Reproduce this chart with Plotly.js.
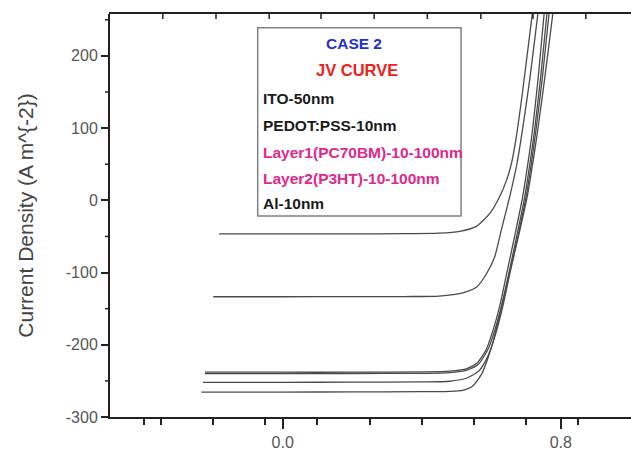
<!DOCTYPE html>
<html>
<head>
<meta charset="utf-8">
<script src="https://cdn.plot.ly/plotly-3.0.1.min.js"></script>
<style>
  html, body { margin: 0; padding: 0; background: #ffffff; overflow: hidden; width: 631px; height: 455px; }
  #chart { width: 680px; height: 455px; }
</style>
</head>
<body>
<div id="chart"></div>
<script>
// ---- Data (Voltage in V, Current density in A m^-2) ----
const voltageA = [-0.183, 0.0, 0.2, 0.35, 0.45, 0.509, 0.557, 0.596, 0.624, 0.644, 0.658, 0.672, 0.69, 0.718, 0.73];
const currentA = [-46.5, -46.5, -46.4, -46.2, -45.5, -43, -36, -18, 5, 28, 51, 88, 150, 258, 300];

const voltageB = [-0.2, 0.0, 0.2, 0.35, 0.45, 0.518, 0.558, 0.587, 0.61, 0.629, 0.653, 0.674, 0.688, 0.71, 0.734, 0.745];
const currentB = [-133.5, -133.5, -133.4, -133.2, -132.5, -128, -120, -101, -78, -41, 5, 51, 92, 165, 258, 300];

const voltageC = [-0.224, 0.0, 0.2, 0.4, 0.48, 0.53, 0.56, 0.585, 0.605, 0.625, 0.645, 0.668, 0.69, 0.705, 0.718, 0.735, 0.752, 0.762];
const currentC = [-238, -238, -238, -237.6, -236.5, -233, -225, -207, -180, -145, -100, -48, 4, 50, 95, 170, 258, 300];

const voltageC2 = [-0.224, 0.0, 0.2, 0.4, 0.48, 0.53, 0.563, 0.59, 0.61, 0.63, 0.651, 0.674, 0.696, 0.711, 0.724, 0.742, 0.76, 0.77];
const currentC2 = [-240, -240, -239.8, -239.5, -238.5, -235, -227, -207, -180, -145, -100, -48, 4, 50, 95, 170, 258, 300];

const voltageD = [-0.23, 0.0, 0.2, 0.4, 0.48, 0.53, 0.565, 0.592, 0.613, 0.633, 0.654, 0.678, 0.7, 0.715, 0.728, 0.747, 0.766, 0.776];
const currentD = [-252, -252, -251.8, -251.5, -250.5, -246, -236, -214, -184, -147, -100, -47, 4, 50, 95, 170, 258, 300];

const voltageE = [-0.234, 0.0, 0.2, 0.4, 0.48, 0.518, 0.547, 0.573, 0.59, 0.605, 0.622, 0.64, 0.658, 0.682, 0.703, 0.719, 0.733, 0.754, 0.777, 0.787];
const currentE = [-265.5, -265.5, -265.3, -265, -264.5, -263, -257, -240, -219, -196, -163, -126, -90, -42, 4, 50, 95, 170, 258, 300];

// ---- Axis ticks ----
const yTickVals = [-300, -200, -100, 0, 100, 200];
const yTickText = ['-300', '-200', '-100', '0', '100', '200'];
const yMinorVals = [-250, -150, -50, 50, 150, 250];
const xTickVals = [0.0, 0.8];
const xTickText = ['0.0', '0.8'];
const xMinorVals = [-0.4, -0.35, -0.2, -0.05, 0.1, 0.25, 0.4, 0.55, 0.7, 0.85];
const xTopTickVals = [-0.345, -0.192, -0.039, 0.11, 0.263, 0.416, 0.57, 0.72, 0.872];

// ---- Info box text ----
const boxTitle = 'CASE 2';
const boxSubtitle = 'JV CURVE';
const boxLines = ['ITO-50nm', 'PEDOT:PSS-10nm', 'Layer1(PC70BM)-10-100nm', 'Layer2(P3HT)-10-100nm', 'Al-10nm'];
const boxLineColors = ['#1a1a1a', '#1a1a1a', '#e0288c', '#e0288c', '#1a1a1a'];

const series = [
  [voltageA, currentA], [voltageB, currentB], [voltageC, currentC],
  [voltageC2, currentC2], [voltageD, currentD], [voltageE, currentE]
];

const traces = series.map(function (s) {
  return {
    x: s[0], y: s[1], type: 'scatter', mode: 'lines',
    line: { color: '#4a4a4a', width: 1.3, shape: 'spline', smoothing: 0.6 },
    hoverinfo: 'skip', showlegend: false
  };
});

// the plot area runs past the right edge of the window (the reference is cropped there)
const xRange = [-0.497, 1.143];
const yRange = [-300, 258];
const plotW = 680 - 110;
const plotH = 455 - 14 - 38;
const axisColor = '#222222';

const annotations = [];
annotations.push({ x: 0.205, y: 216.5, xref: 'x', yref: 'y', text: '<b>' + boxTitle + '</b>', showarrow: false,
  xanchor: 'center', yanchor: 'middle', font: { family: 'Arial, Liberation Sans', size: 15.5, color: '#2230d0' } });
annotations.push({ x: 0.214, y: 180.5, xref: 'x', yref: 'y', text: '<b>' + boxSubtitle + '</b>', showarrow: false,
  xanchor: 'center', yanchor: 'middle', font: { family: 'Arial, Liberation Sans', size: 16.5, color: '#e8241c' } });
const lineY = [140.4, 103, 65.7, 29.6, -5];
boxLines.forEach(function (t, i) {
  annotations.push({ x: -0.062, y: lineY[i], xref: 'x', yref: 'y', text: '<b>' + t + '</b>', showarrow: false,
    xanchor: 'left', yanchor: 'middle', font: { family: 'Arial, Liberation Sans', size: 15.5, color: boxLineColors[i] } });
});

// frame decorations: info box, top frame line with inward ticks, minor ticks on the left axis
const shapes = [{
  type: 'rect', xref: 'x', yref: 'y', x0: -0.072, x1: 0.513, y0: -21.6, y1: 238.8,
  line: { color: '#808080', width: 1.5 }, fillcolor: 'rgba(255,255,255,0)', layer: 'above'
}, {
  type: 'line', xref: 'paper', yref: 'paper', x0: -1 / plotW, x1: 1, y0: 1 + 1 / plotH, y1: 1 + 1 / plotH,
  line: { color: axisColor, width: 2 }, layer: 'above'
}];
xTopTickVals.forEach(function (v) {
  shapes.push({ type: 'line', xref: 'x', yref: 'paper', x0: v, x1: v, y0: 1, y1: 1 - 5 / plotH,
    line: { color: axisColor, width: 1.5 }, layer: 'above' });
});
yMinorVals.forEach(function (v) {
  shapes.push({ type: 'line', xref: 'paper', yref: 'y', x0: -1 / plotW, x1: -5 / plotW, y0: v, y1: v,
    line: { color: axisColor, width: 1.5 }, layer: 'above' });
});

const layout = {
  width: 680, height: 455,
  margin: { l: 110, r: 0, t: 14, b: 38, pad: 0 },
  paper_bgcolor: '#ffffff', plot_bgcolor: '#ffffff',
  showlegend: false,
  xaxis: {
    range: xRange, showgrid: false, zeroline: false,
    showline: true, linecolor: axisColor, linewidth: 2,
    tickmode: 'array', tickvals: xTickVals, ticktext: xTickText,
    ticks: 'outside', ticklen: 10, tickwidth: 1.5, tickcolor: axisColor,
    tickfont: { family: 'Arial, Liberation Sans', size: 16, color: '#555555' },
    minor: { tickmode: 'array', tickvals: xMinorVals, ticks: 'outside', ticklen: 6, tickwidth: 1.5, tickcolor: axisColor }
  },
  yaxis: {
    range: yRange, showgrid: false, zeroline: false,
    showline: true, linecolor: axisColor, linewidth: 2,
    tickmode: 'array', tickvals: yTickVals, ticktext: yTickText,
    ticks: 'outside', ticklen: 7, tickwidth: 1.5, tickcolor: axisColor,
    tickfont: { family: 'Arial, Liberation Sans', size: 16, color: '#555555' },
    title: { text: 'Current Density (A m^{-2})', standoff: 26,
      font: { family: 'Arial, Liberation Sans', size: 21, color: '#444444' } }
  },
  shapes: shapes,
  annotations: annotations
};

Plotly.newPlot('chart', traces, layout, { displayModeBar: false });
</script>
</body>
</html>
